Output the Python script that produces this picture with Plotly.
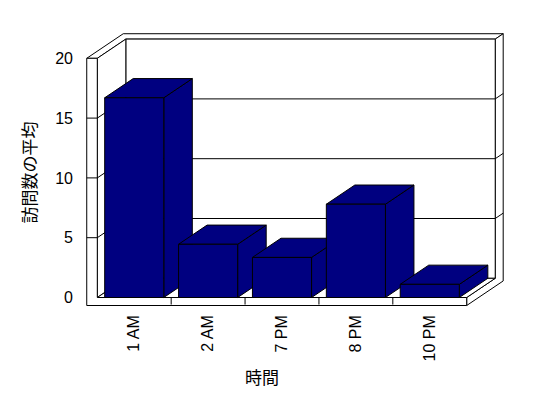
import plotly.graph_objects as go

# ---- data ----
categories = ["1 AM", "2 AM", "7 PM", "8 PM", "10 PM"]
values = [16.7, 4.45, 3.35, 7.8, 1.1]
y_ticks = [0, 5, 10, 15, 20]
x_title = "時間"
y_title = "訪問数の平均"

# ---- style ----
BAR = "#000080"
WALL = "white"
DX, DY = 0.386, 1.605      # depth offset (data units) for one unit of depth
BACK = 1.28                # depth of back wall outer plane
WALL_L = -0.643            # left wall outer x
FLOOR_B = -0.67            # floor bottom y
BAR_W = 0.8
YMAX = y_ticks[-1]
W, H = 548, 398
L_PX, R_PX, T_PX, B_PX = 80, 518, 25, 308   # plot area in pixels
# pixel <-> data mapping (x: -0.5 at 97.3px, 73.88px/unit; y: 0 at 297.5px, 11.96px/unit)
def xd(p):
    return -0.5 + (p - 97.3) / 73.88
def yd(p):
    return (297.5 - p) / 11.96

n = len(categories)
XL, XR = -0.5, n - 0.5

def P(x, y, z=0.0):
    return (x + z * DX, y + z * DY)

fig = go.Figure()

def poly(pts, fill):
    xs = [p[0] for p in pts] + [pts[0][0]]
    ys = [p[1] for p in pts] + [pts[0][1]]
    fig.add_trace(go.Scatter(x=xs, y=ys, mode="lines", fill="toself",
                             fillcolor=fill, line=dict(color="black", width=1),
                             hoverinfo="skip", showlegend=False))

def lines(segs):
    xs, ys = [], []
    for seg in segs:
        for p in seg:
            xs.append(p[0]); ys.append(p[1])
        xs.append(None); ys.append(None)
    fig.add_trace(go.Scatter(x=xs, y=ys, mode="lines",
                             line=dict(color="black", width=1),
                             hoverinfo="skip", showlegend=False))

# walls
poly([P(WALL_L, YMAX, 0), P(XL, YMAX, 0), P(XL, YMAX, 1), P(XR, YMAX, 1),
      P(XR, YMAX, BACK), P(WALL_L, YMAX, BACK)], WALL)
poly([P(XR, FLOOR_B, 0), P(XR, 0, 0), P(XR, 0, 1), P(XR, YMAX, 1),
      P(XR, YMAX, BACK), P(XR, FLOOR_B, BACK)], WALL)
poly([P(XL, 0, 1), P(XR, 0, 1), P(XR, YMAX, 1), P(XL, YMAX, 1)], WALL)
poly([P(XL, 0, 0), P(XL, YMAX, 0), P(XL, YMAX, 1), P(XL, 0, 1)], WALL)
poly([P(XL, 0, 0), P(XR, 0, 0), P(XR, 0, 1), P(XL, 0, 1)], WALL)
poly([(WALL_L, YMAX), (XL, YMAX), (XL, 0), (XR, 0), (XR, FLOOR_B), (WALL_L, FLOOR_B)], WALL)

# gridlines
lines([[P(WALL_L, v, 0), P(XL, v, 0), P(XL, v, 1), P(XR, v, 1), P(XR, v, BACK)]
       for v in y_ticks[1:-1]])
# category dividers on floor front
lines([[(k - 0.5, 0), (k - 0.5, FLOOR_B + 0.08)] for k in range(1, n)])

# bars
for i, v in enumerate(values):
    xl, xr = i - BAR_W / 2, i + BAR_W / 2
    poly([P(xr, 0, 0), P(xr, v, 0), P(xr, v, 1), P(xr, 0, 1)], BAR)
    poly([P(xl, v, 0), P(xr, v, 0), P(xr, v, 1), P(xl, v, 1)], BAR)
    poly([P(xl, 0, 0), P(xr, 0, 0), P(xr, v, 0), P(xl, v, 0)], BAR)

FONT = "Liberation Sans, Arial, Noto Sans CJK JP, sans-serif"
CJK = "Noto Sans CJK JP, sans-serif"

fig.update_layout(
    width=W, height=H,
    margin=dict(l=L_PX, r=W - R_PX, t=T_PX, b=H - B_PX, pad=0),
    paper_bgcolor="white", plot_bgcolor="white",
    font=dict(family=FONT, size=16, color="black"),
    showlegend=False,
    xaxis=dict(range=[xd(L_PX), xd(R_PX)], tickvals=list(range(n)), ticktext=categories,
               tickangle=-90, showgrid=False, zeroline=False, showline=False, ticks="",
               ticklabelstandoff=3, fixedrange=True),
    yaxis=dict(range=[yd(B_PX), yd(T_PX)], tickvals=y_ticks, showgrid=False,
               zeroline=False, showline=False, ticks="", ticklabelstandoff=6,
               fixedrange=True),
    annotations=[
        dict(text=y_title, xref="paper", yref="paper",
             x=(28.5 - L_PX) / (R_PX - L_PX), y=(B_PX - 173) / (B_PX - T_PX),
             xanchor="center", yanchor="middle", textangle=-90, showarrow=False,
             font=dict(family=CJK, size=17, color="black")),
        dict(text=x_title, xref="paper", yref="paper",
             x=(262 - L_PX) / (R_PX - L_PX), y=(B_PX - 376) / (B_PX - T_PX),
             xanchor="center", yanchor="middle", showarrow=False,
             font=dict(family=CJK, size=17, color="black")),
    ],
)

fig.write_html("out.html")
